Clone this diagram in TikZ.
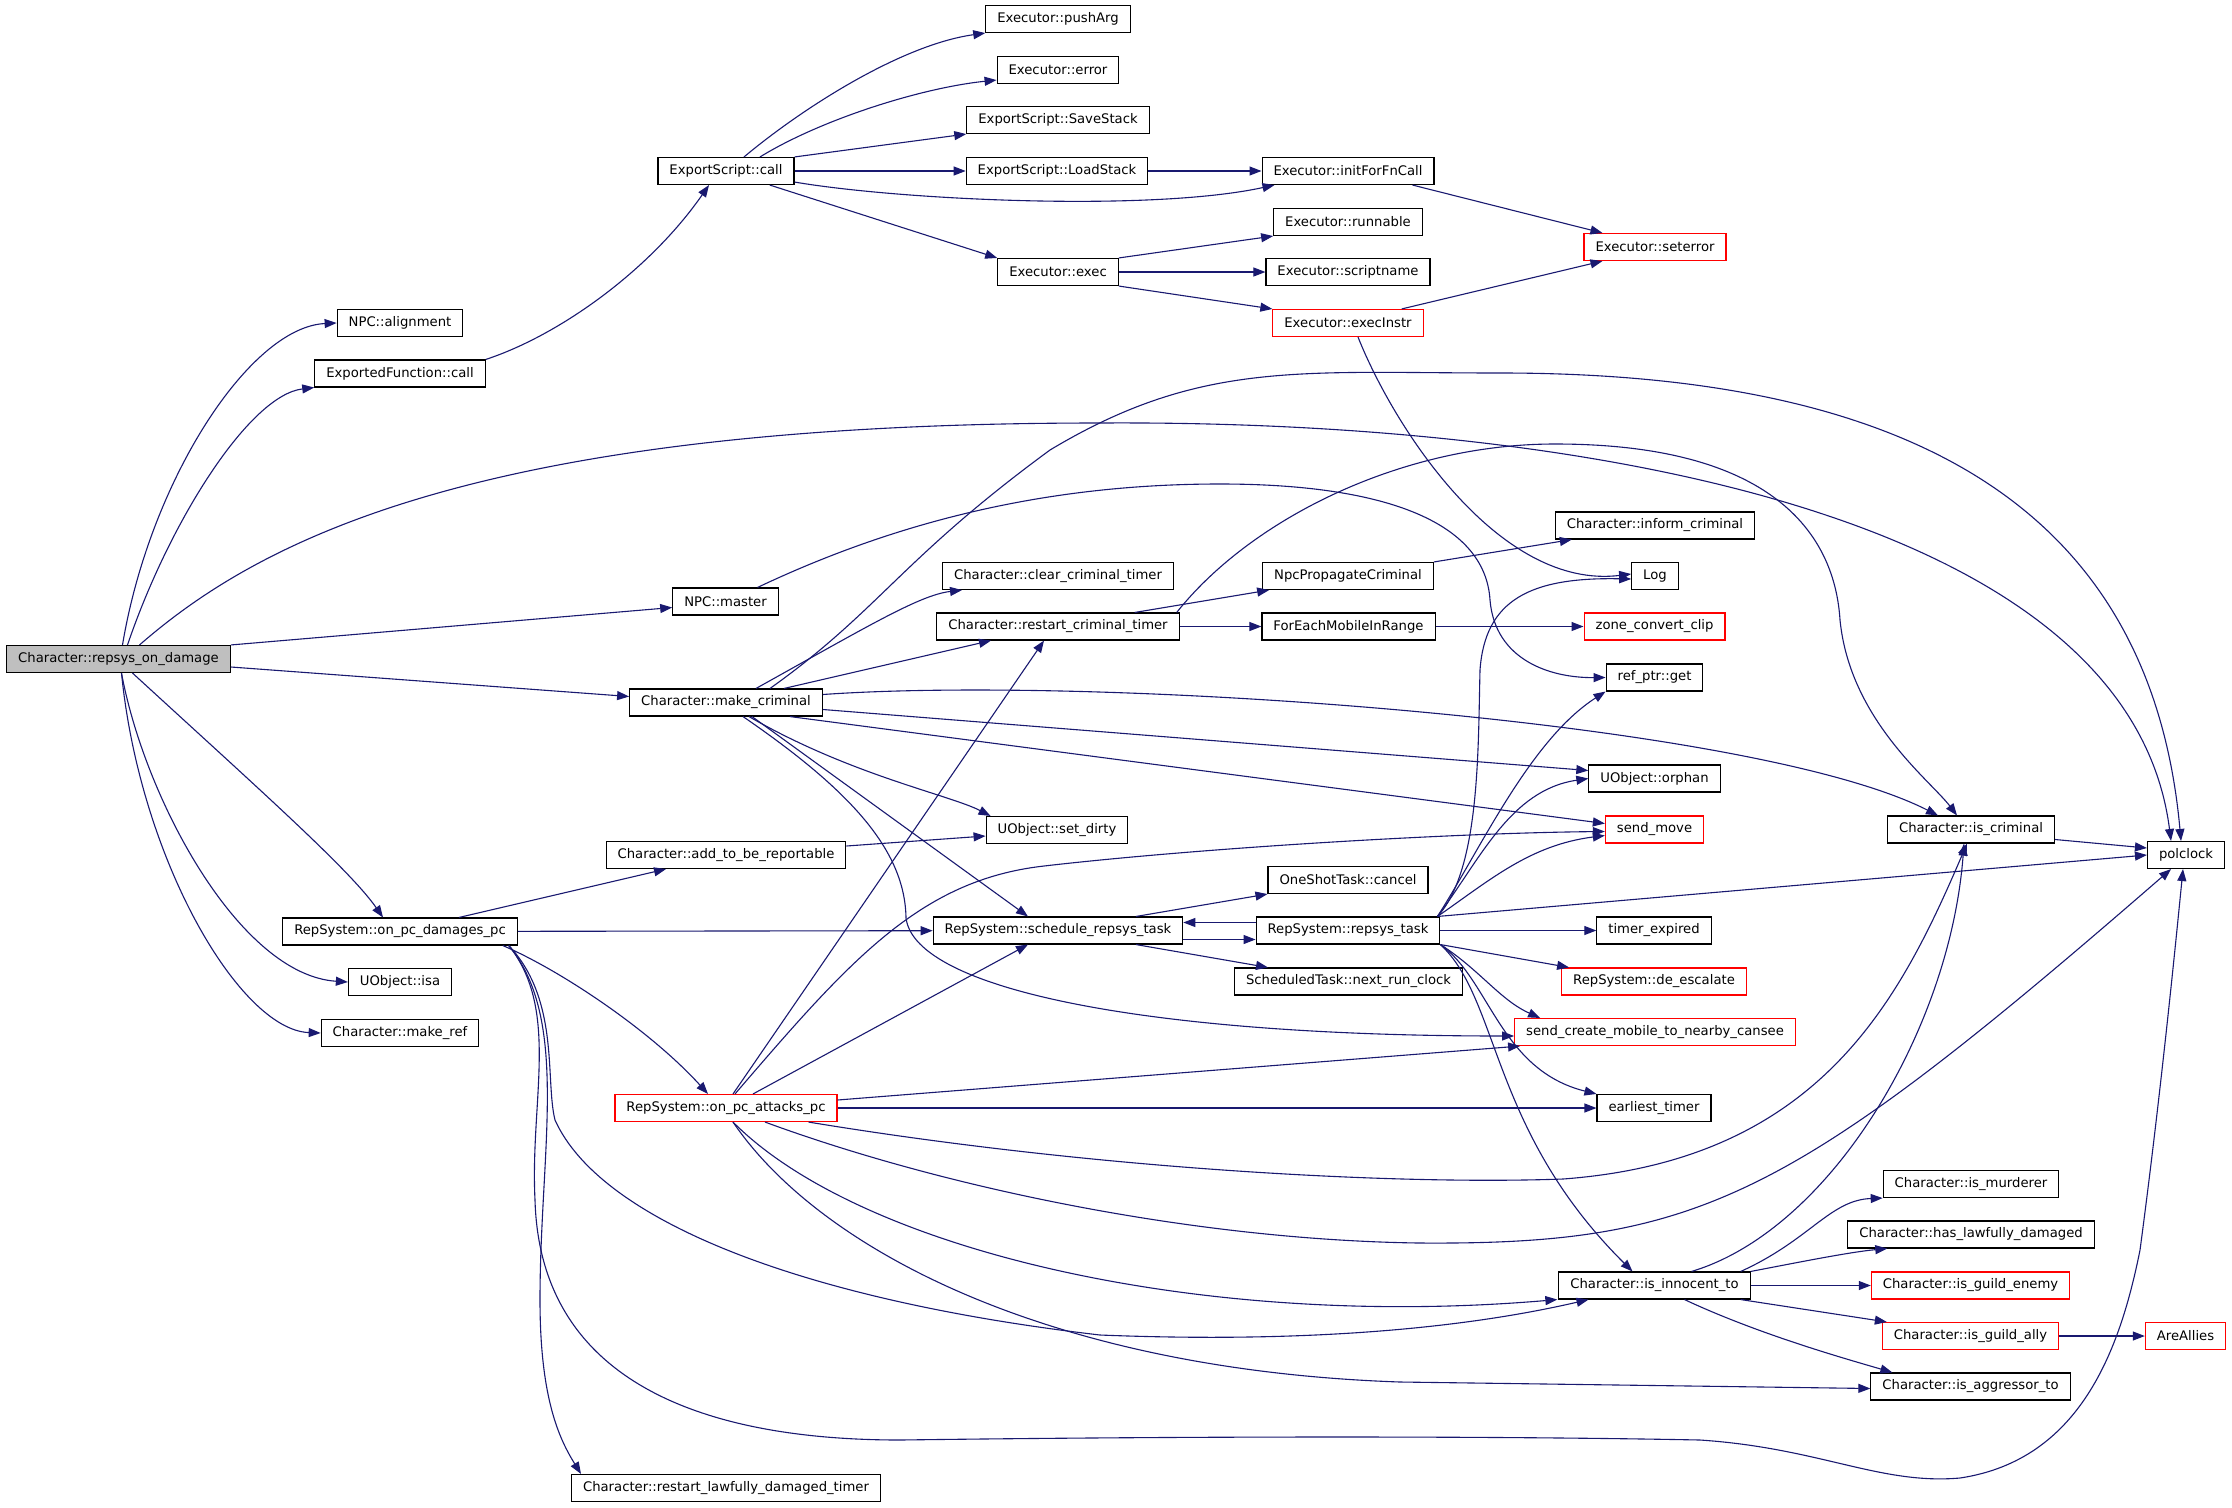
\documentclass[tikz,border=0pt]{standalone}
\usepackage{fontspec}
\setmainfont{DejaVu Sans}
\usetikzlibrary{arrows.meta}
\definecolor{edgeblue}{RGB}{25,25,112}
\definecolor{rootgrey}{RGB}{191,191,191}

\begin{document}
\begin{tikzpicture}[x=1pt,y=-1pt,
   func/.style={draw=black,line width=1.1pt,minimum height=27pt,inner xsep=11.5pt,inner ysep=0pt,
     font=\fontsize{13.2}{15}\selectfont,text=black,fill=white},
   funcred/.style={func,draw=red},
   funcroot/.style={func,fill=rootgrey},
   calledge/.style={draw=edgeblue,line width=1.1pt,-{Triangle[length=12pt,width=9pt]},fill=none}]
   \fill[white] (0,0) rectangle (2232,1507);
   \useasboundingbox (0,0) rectangle (2232,1507);

   % column 1 and 2
   \node[funcroot] (rod) at (118.5,659) {Character::repsys\_on\_damage};
   \node[func] (nal) at (400,323) {NPC::alignment};
   \node[func] (efc) at (400,373.5) {ExportedFunction::call};
   \node[func] (opd) at (400,931.5) {RepSystem::on\_pc\_damages\_pc};
   \node[func] (isa) at (400,982) {UObject::isa};
   \node[func] (mref) at (400,1033) {Character::make\_ref};

   % column 3
   \node[func] (esc) at (726,171) {ExportScript::call};
   \node[func] (nm) at (725.5,601.5) {NPC::master};
   \node[func] (mc) at (726,702.5) {Character::make\_criminal};
   \node[func] (atr) at (726,855) {Character::add\_to\_be\_reportable};
   \node[funcred] (opa) at (726,1108) {RepSystem::on\_pc\_attacks\_pc};
   \node[func] (rldt) at (726,1488) {Character::restart\_lawfully\_damaged\_timer};

   % column 4
   \node[func] (pa) at (1058,19) {Executor::pushArg};
   \node[func] (err) at (1058,70) {Executor::error};
   \node[func] (ss) at (1058,120) {ExportScript::SaveStack};
   \node[func] (ls) at (1057,171) {ExportScript::LoadStack};
   \node[func] (exe) at (1058,272) {Executor::exec};
   \node[func] (ccl) at (1058,576) {Character::clear\_criminal\_timer};
   \node[func] (rct) at (1058,626.5) {Character::restart\_criminal\_timer};
   \node[func] (sd) at (1057,830) {UObject::set\_dirty};
   \node[func] (srt) at (1058,930.5) {RepSystem::schedule\_repsys\_task};

   % column 5
   \node[func] (iff) at (1348,171) {Executor::initForFnCall};
   \node[func] (run) at (1348,222) {Executor::runnable};
   \node[func] (sn) at (1348,272) {Executor::scriptname};
   \node[funcred] (ei) at (1348,323) {Executor::execInstr};
   \node[func] (npc) at (1348,576) {NpcPropagateCriminal};
   \node[func] (fem) at (1348.5,626.5) {ForEachMobileInRange};
   \node[func] (osc) at (1348,880) {OneShotTask::cancel};
   \node[func] (rt) at (1348,930.5) {RepSystem::repsys\_task};
   \node[func] (nrc) at (1348.5,981.5) {ScheduledTask::next\_run\_clock};

   % column 6
   \node[funcred] (se) at (1655,247) {Executor::seterror};
   \node[func] (icr) at (1655,525.5) {Character::inform\_criminal};
   \node[func] (log) at (1655,576) {Log};
   \node[funcred] (zcc) at (1654.5,626.5) {zone\_convert\_clip};
   \node[func] (rpg) at (1654.5,677.5) {ref\_ptr::get};
   \node[func] (uor) at (1654.5,778.5) {UObject::orphan};
   \node[funcred] (smv) at (1654.5,829.5) {send\_move};
   \node[func] (te) at (1654,930.5) {timer\_expired};
   \node[funcred] (de) at (1654,981.5) {RepSystem::de\_escalate};
   \node[funcred] (scm) at (1655,1032) {send\_create\_mobile\_to\_nearby\_cansee};
   \node[func] (et) at (1654,1108) {earliest\_timer};
   \node[func] (ii) at (1654.5,1285.5) {Character::is\_innocent\_to};

   % columns 7 and 8
   \node[func] (ic) at (1971,829.5) {Character::is\_criminal};
   \node[func] (im) at (1971,1184) {Character::is\_murderer};
   \node[func] (hld) at (1971,1234.5) {Character::has\_lawfully\_damaged};
   \node[funcred] (ige) at (1970.5,1285.5) {Character::is\_guild\_enemy};
   \node[funcred] (iga) at (1970.5,1336) {Character::is\_guild\_ally};
   \node[func] (iat) at (1970.5,1386.5) {Character::is\_aggressor\_to};
   \node[func] (pc) at (2186,855) {polclock};
   \node[funcred] (aa) at (2185.5,1336) {AreAllies};

   % calls of Character::repsys_on_damage
   \draw[calledge] ([xshift=4pt]rod.north) .. controls (150,480) and (250,327) .. (nal.west);
   \draw[calledge] ([xshift=9pt]rod.north) .. controls (170,520) and (250,395) .. (efc.south west);
   \draw[calledge] ([xshift=21pt]rod.north) .. controls (260,540) and (480,423) .. (1100,423)
      .. controls (1600,420) and (2130,520) .. ([xshift=-15pt]pc.north);
   \draw[calledge] (rod.north east) -- ([yshift=-6pt]nm.west);
   \draw[calledge] ([yshift=-8pt]rod.east) -- ([yshift=6pt]mc.west);
   \draw[calledge] ([xshift=14pt]rod.south) .. controls (260,790) and (350,870) .. ([xshift=-17pt]opd.north);
   \draw[calledge] ([xshift=3pt]rod.south) .. controls (145,800) and (240,975) .. (isa.west);
   \draw[calledge] ([xshift=3pt]rod.south) .. controls (140,860) and (240,1030) .. (mref.west);

   \draw[calledge] (efc.north east) .. controls (560,335) and (650,270) .. ([xshift=-17pt]esc.south);

   % script side
   \draw[calledge] ([xshift=18pt]esc.north) .. controls (800,110) and (900,45) .. (pa.south west);
   \draw[calledge] ([xshift=34pt]esc.north) .. controls (820,120) and (920,88) .. ([yshift=4pt]err.south west);
   \draw[calledge] (esc.north east) -- (ss.south west);
   \draw[calledge] (esc) -- (ls);
   \draw[calledge] (ls) -- (iff);
   \draw[calledge] ([yshift=3pt]esc.south east) .. controls (900,200) and (1150,212) .. ([xshift=13pt]iff.south west);
   \draw[calledge] (esc) -- (exe.north west);
   \draw[calledge] (exe.north east) -- (run.south west);
   \draw[calledge] (exe) -- (sn);
   \draw[calledge] (exe.south east) -- (ei.north west);
   \draw[calledge] ([xshift=-22pt]iff.south east) -- ([xshift=19pt]se.north west);
   \draw[calledge] ([xshift=-22pt]ei.north east) -- ([xshift=19pt]se.south west);
   \draw[calledge] ([xshift=10pt]ei.south) .. controls (1395,430) and (1500,590) .. ([yshift=2pt]log.west);

   \draw[calledge] ([xshift=32pt]nm.north) .. controls (900,520) and (1050,484) .. (1220,484)
      .. controls (1380,484) and (1485,520) .. (1490,600) .. controls (1495,660) and (1550,678) .. (rpg.west);

   % calls of Character::make_criminal
   \draw[calledge] ([xshift=30pt]mc.north) .. controls (870,625) and (920,595) .. ([xshift=20pt]ccl.south west);
   \draw[calledge] ([xshift=44pt]mc.north) .. controls (880,610) and (900,560) .. (1050,450)
      .. controls (1200,360) and (1300,373) .. (1500,373) .. controls (1900,373) and (2150,500) .. ([xshift=-5pt]pc.north);
   \draw[calledge] ([xshift=58pt]mc.north) -- ([xshift=-67pt]rct.south);
   \draw[calledge] ([yshift=8pt]mc.east) .. controls (1100,675) and (1750,720) .. ([xshift=-33pt]ic.north);
   \draw[calledge] ([yshift=-7pt]mc.east) -- ([yshift=8pt]uor.west);
   \draw[calledge] ([xshift=-33pt]mc.south east) -- ([yshift=6pt]smv.west);
   \draw[calledge] ([xshift=23pt]mc.south) .. controls (850,775) and (950,795) .. ([xshift=5pt]sd.north west);
   \draw[calledge] ([xshift=26pt]mc.south) -- ([xshift=-30pt]srt.north);
   \draw[calledge] ([xshift=17pt]mc.south) .. controls (850,790) and (905,850) .. (906,918)
      .. controls (915,990) and (1150,1036) .. ([yshift=-4pt]scm.west);

   \draw[calledge] ([xshift=-45pt]rct.north east) -- ([xshift=7pt]npc.south west);
   \draw[calledge] (rct) -- (fem);
   \draw[calledge] ([xshift=-3pt]rct.north east) .. controls (1250,520) and (1400,444) .. (1555,444)
      .. controls (1780,444) and (1835,540) .. (1840,620) .. controls (1850,720) and (1930,780) .. ([xshift=-14pt]ic.north);
   \draw[calledge] (npc.north east) -- ([xshift=17pt]icr.south west);
   \draw[calledge] (fem) -- (zcc);
   \draw[calledge] ([yshift=9pt]atr.east) -- ([yshift=-6pt]sd.west);

   % calls of RepSystem::on_pc_damages_pc
   \draw[calledge] ([xshift=59pt]opd.north) -- ([xshift=-60pt]atr.south);
   \draw[calledge] (opd) -- (srt);
   \draw[calledge] ([xshift=-15pt]opd.south east) .. controls (560,970) and (650,1030) .. ([xshift=-18pt]opa.north);
   \draw[calledge] ([xshift=-9pt]opd.south east) .. controls (560,1000) and (545,1080) .. (555,1120)
      .. controls (600,1220) and (800,1300) .. (1100,1335) .. controls (1350,1345) and (1500,1320) .. ([xshift=-66pt]ii.south);
   \draw[calledge] ([xshift=-9pt]opd.south east) .. controls (560,1010) and (530,1100) .. (535,1200)
      .. controls (540,1380) and (700,1440) .. (900,1440) .. controls (1200,1436) and (1500,1436) .. (1700,1440)
      .. controls (1820,1448) and (1880,1485) .. (1960,1478) .. controls (2080,1460) and (2120,1350) .. (2140,1250)
      .. controls (2160,1100) and (2175,950) .. ([xshift=-3pt]pc.south);
   \draw[calledge] ([xshift=-9pt]opd.south east) .. controls (570,1020) and (540,1150) .. (540,1300)
      .. controls (540,1400) and (560,1440) .. ([xshift=10pt]rldt.north west);

   % calls of RepSystem::on_pc_attacks_pc
   \draw[calledge] ([xshift=7pt]opa.north) -- ([xshift=-14pt]rct.south);
   \draw[calledge] ([xshift=27pt]opa.north) -- ([xshift=-30pt]srt.south);
   \draw[calledge] ([xshift=9pt]opa.north) .. controls (850,960) and (920,880) .. (1044,866)
      .. controls (1200,848) and (1450,833) .. ([yshift=-2pt]smv.west);
   \draw[calledge] ([yshift=8pt]opa.east) -- ([xshift=6pt]scm.south west);
   \draw[calledge] (opa) -- (et);
   \draw[calledge] ([xshift=-29pt]opa.south east) .. controls (1100,1170) and (1400,1185) .. (1563,1179)
      .. controls (1820,1160) and (1900,1000) .. ([xshift=-4pt]ic.south);
   \draw[calledge] ([xshift=39pt]opa.south) .. controls (950,1190) and (1200,1240) .. (1419,1243)
      .. controls (1700,1245) and (1790,1200) .. ([xshift=-15pt]pc.south);
   \draw[calledge] ([xshift=7pt]opa.south) .. controls (860,1250) and (1200,1330) .. ([xshift=-1pt]ii.south west);
   \draw[calledge] ([xshift=7pt]opa.south) .. controls (820,1250) and (1050,1370) .. (1400,1382) -- ([yshift=-2pt]iat.west);

   % scheduling
   \draw[calledge] ([xshift=78pt]srt.north) -- (osc.south west);
   \draw[calledge] ([yshift=-9pt]srt.east) -- ([yshift=-9pt]rt.west);
   \draw[calledge] ([yshift=8pt]rt.west) -- ([yshift=8pt]srt.east);
   \draw[calledge] ([xshift=78pt]srt.south) -- ([xshift=34pt]nrc.north west);

   % calls of RepSystem::repsys_task
   \draw[calledge] ([xshift=-3pt]rt.north east) -- (pc.west);
   \draw[calledge] (rt) -- (te);
   \draw[calledge] (rt.south east) -- ([xshift=8pt]de.north west);
   \draw[calledge] (rt.south east) .. controls (1480,970) and (1500,1000) .. ([xshift=26pt]scm.north west);
   \draw[calledge] (rt.south east) .. controls (1490,980) and (1500,1070) .. (et.north west);
   \draw[calledge] (rt.south east) .. controls (1500,1000) and (1490,1130) .. ([xshift=-22pt]ii.north);
   \draw[calledge] ([xshift=-3pt]rt.north east) .. controls (1480,870) and (1478,750) .. (1480,670)
      .. controls (1485,600) and (1530,577) .. ([yshift=-3pt]log.west);
   \draw[calledge] ([xshift=-3pt]rt.north east) .. controls (1480,850) and (1530,740) .. (rpg.south west);
   \draw[calledge] ([xshift=-3pt]rt.north east) .. controls (1480,860) and (1510,790) .. (uor.west);
   \draw[calledge] ([xshift=-3pt]rt.north east) .. controls (1490,880) and (1530,845) .. ([yshift=-6pt]smv.west);

   % calls of Character::is_innocent_to
   \draw[calledge] ([xshift=-10pt]ii.north east) .. controls (1810,1240) and (1830,1200) .. (im.south west);
   \draw[calledge] (ii.north east) .. controls (1800,1262) and (1850,1252) .. ([xshift=40pt]hld.south west);
   \draw[calledge] (ii) -- (ige);
   \draw[calledge] ([xshift=-10pt]ii.south east) -- ([xshift=5pt]iga.north west);
   \draw[calledge] ([xshift=30pt]ii.south) .. controls (1760,1335) and (1850,1360) .. ([xshift=22pt]iat.north west);
   \draw[calledge] ([xshift=37pt]ii.north) .. controls (1830,1230) and (1950,1030) .. ([xshift=-7pt]ic.south);
   \draw[calledge] (iga) -- (aa);
   \draw[calledge] ([yshift=-10pt]ic.east) -- ([yshift=7pt]pc.west);
\end{tikzpicture}
\end{document}
